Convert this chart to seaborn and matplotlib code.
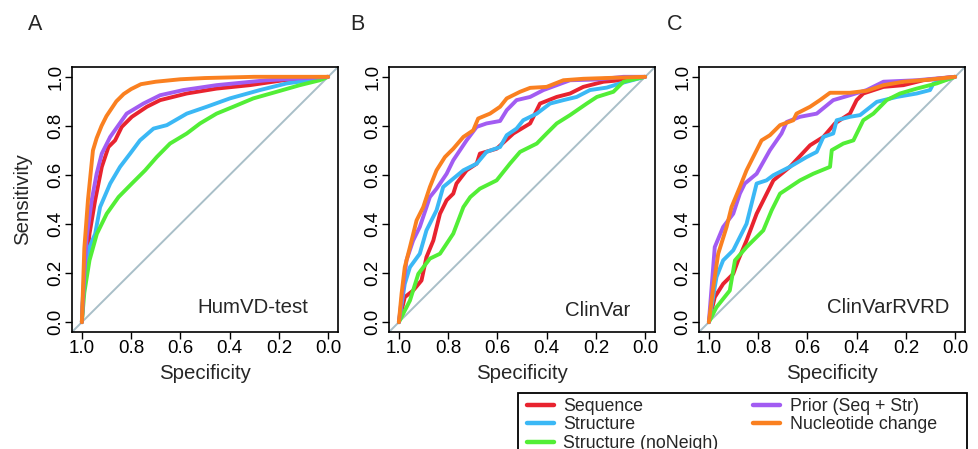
import numpy as np
import pandas as pd
import matplotlib
matplotlib.use("Agg")
import matplotlib.pyplot as plt
from matplotlib.lines import Line2D
from matplotlib.patches import Rectangle
import seaborn as sns

# ---------------- data: (specificity, sensitivity) points ----------------
series_names = ["Sequence", "Structure", "Structure (noNeigh)",
                "Prior (Seq + Str)", "Nucleotide change"]
series_colors = ["#E8232F", "#3BB8F5", "#52EE36", "#A25CF2", "#FA8020"]
panel_letters = ["A", "B", "C"]
panel_titles = ["HumVD-test", "ClinVar", "ClinVarRVRD"]
tick_vals = [0.0, 0.2, 0.4, 0.6, 0.8, 1.0]
tick_labels = ["0.0", "0.2", "0.4", "0.6", "0.8", "1.0"]

# Panel A: HumVD-test
A_seq = [(1.0, 0.0), (0.995, 0.1), (0.982, 0.224), (0.969, 0.36), (0.946, 0.497), (0.919, 0.633),
         (0.892, 0.714), (0.865, 0.741), (0.838, 0.796), (0.797, 0.837), (0.736, 0.878),
         (0.682, 0.905), (0.574, 0.932), (0.453, 0.952), (0.318, 0.966), (0.182, 0.986), (0.0, 1.0)]
A_str = [(1.0, 0.0), (0.996, 0.1), (0.986, 0.184), (0.969, 0.306), (0.946, 0.36), (0.926, 0.469),
         (0.885, 0.565), (0.845, 0.633), (0.804, 0.687), (0.764, 0.741), (0.709, 0.789),
         (0.655, 0.803), (0.574, 0.85), (0.493, 0.878), (0.399, 0.912), (0.277, 0.946),
         (0.169, 0.973), (0.074, 0.986), (0.0, 1.0)]
A_strnn = [(1.0, 0.0), (0.99, 0.12), (0.969, 0.252), (0.939, 0.36), (0.899, 0.442), (0.851, 0.51),
           (0.797, 0.565), (0.743, 0.619), (0.696, 0.673), (0.642, 0.728), (0.574, 0.769),
           (0.52, 0.81), (0.453, 0.85), (0.385, 0.878), (0.304, 0.912), (0.209, 0.939),
           (0.115, 0.966), (0.034, 0.986), (0.0, 1.0)]
A_prior = [(1.0, 0.0), (0.99, 0.2), (0.98, 0.35), (0.96, 0.497), (0.94, 0.605), (0.919, 0.687),
           (0.885, 0.755), (0.818, 0.85), (0.75, 0.891), (0.682, 0.925), (0.588, 0.946),
           (0.453, 0.966), (0.25, 0.986), (0.0, 1.0)]
A_nuc = [(1.0, 0.0), (0.995, 0.15), (0.99, 0.30), (0.975, 0.50), (0.965, 0.60), (0.955, 0.70),
         (0.94, 0.75), (0.92, 0.80), (0.90, 0.84), (0.88, 0.87), (0.86, 0.90), (0.83, 0.93),
         (0.80, 0.95), (0.76, 0.97), (0.70, 0.98), (0.60, 0.99), (0.50, 0.995), (0.30, 1.0), (0.0, 1.0)]

# Panel B: ClinVar
B_seq = [(1.0, 0.0), (0.976, 0.102), (0.942, 0.129), (0.908, 0.17), (0.888, 0.265), (0.86, 0.333),
         (0.833, 0.442), (0.806, 0.497), (0.779, 0.524), (0.766, 0.565), (0.725, 0.619),
         (0.684, 0.646), (0.671, 0.687), (0.603, 0.707), (0.535, 0.769), (0.467, 0.81),
         (0.427, 0.891), (0.359, 0.918), (0.305, 0.932), (0.251, 0.959), (0.169, 0.98),
         (0.102, 0.986), (0.0, 1.0)]
B_str = [(1.0, 0.0), (0.976, 0.156), (0.955, 0.224), (0.915, 0.279), (0.888, 0.374), (0.847, 0.456),
         (0.82, 0.551), (0.779, 0.585), (0.738, 0.619), (0.684, 0.646), (0.644, 0.694),
         (0.589, 0.714), (0.562, 0.762), (0.522, 0.789), (0.495, 0.823), (0.44, 0.85),
         (0.386, 0.891), (0.332, 0.905), (0.278, 0.918), (0.224, 0.946), (0.156, 0.956),
         (0.102, 0.973), (0.0, 1.0)]
B_strnn = [(1.0, 0.0), (0.955, 0.088), (0.921, 0.197), (0.874, 0.259), (0.833, 0.279), (0.779, 0.361),
           (0.738, 0.469), (0.71, 0.51), (0.671, 0.544), (0.603, 0.578), (0.549, 0.646),
           (0.508, 0.694), (0.44, 0.728), (0.4, 0.769), (0.359, 0.81), (0.305, 0.844),
           (0.237, 0.891), (0.196, 0.918), (0.129, 0.939), (0.088, 0.98), (0.0, 1.0)]
B_prior = [(1.0, 0.0), (0.969, 0.252), (0.942, 0.333), (0.915, 0.388), (0.874, 0.51), (0.847, 0.544),
           (0.806, 0.605), (0.779, 0.66), (0.725, 0.741), (0.684, 0.796), (0.644, 0.81),
           (0.589, 0.82), (0.562, 0.864), (0.522, 0.905), (0.467, 0.918), (0.413, 0.946),
           (0.359, 0.966), (0.305, 0.986), (0.196, 0.989), (0.088, 1.0), (0.0, 1.0)]
B_nuc = [(1.0, 0.0), (0.989, 0.116), (0.976, 0.224), (0.955, 0.306), (0.928, 0.415), (0.901, 0.469),
         (0.874, 0.551), (0.847, 0.619), (0.813, 0.673), (0.779, 0.707), (0.738, 0.755),
         (0.698, 0.782), (0.678, 0.83), (0.63, 0.85), (0.589, 0.878), (0.562, 0.912),
         (0.508, 0.939), (0.467, 0.955), (0.4, 0.959), (0.332, 0.986), (0.251, 0.992),
         (0.129, 0.996), (0.0, 1.0)]

# Panel C: ClinVarRVRD
C_seq = [(1.0, 0.0), (0.976, 0.102), (0.942, 0.156), (0.901, 0.197), (0.881, 0.252), (0.847, 0.333),
         (0.806, 0.442), (0.772, 0.51), (0.738, 0.578), (0.671, 0.633), (0.589, 0.721),
         (0.535, 0.755), (0.488, 0.81), (0.427, 0.85), (0.4, 0.905), (0.373, 0.932),
         (0.291, 0.959), (0.21, 0.966), (0.129, 0.986), (0.0, 1.0)]
C_str = [(1.0, 0.0), (0.969, 0.184), (0.942, 0.252), (0.901, 0.293), (0.847, 0.401), (0.806, 0.565),
         (0.766, 0.578), (0.738, 0.599), (0.671, 0.633), (0.603, 0.673), (0.562, 0.694),
         (0.535, 0.755), (0.495, 0.769), (0.481, 0.823), (0.427, 0.837), (0.386, 0.844),
         (0.318, 0.898), (0.237, 0.918), (0.156, 0.932), (0.102, 0.946), (0.088, 0.973), (0.0, 1.0)]
C_strnn = [(1.0, 0.0), (0.969, 0.061), (0.915, 0.129), (0.894, 0.252), (0.847, 0.306), (0.779, 0.374),
           (0.745, 0.456), (0.711, 0.524), (0.63, 0.578), (0.576, 0.605), (0.508, 0.633),
           (0.501, 0.701), (0.454, 0.728), (0.413, 0.741), (0.373, 0.823), (0.332, 0.85),
           (0.278, 0.905), (0.224, 0.932), (0.156, 0.952), (0.075, 0.973), (0.0, 1.0)]
C_prior = [(1.0, 0.0), (0.976, 0.306), (0.942, 0.388), (0.901, 0.442), (0.874, 0.524), (0.854, 0.565),
           (0.806, 0.605), (0.752, 0.701), (0.705, 0.769), (0.684, 0.816), (0.63, 0.837),
           (0.562, 0.85), (0.495, 0.905), (0.427, 0.925), (0.359, 0.946), (0.291, 0.98),
           (0.156, 0.986), (0.0, 1.0)]
C_nuc = [(1.0, 0.0), (0.982, 0.143), (0.962, 0.279), (0.928, 0.388), (0.908, 0.469), (0.874, 0.551),
         (0.847, 0.619), (0.82, 0.673), (0.786, 0.741), (0.752, 0.762), (0.711, 0.803),
         (0.657, 0.823), (0.644, 0.85), (0.589, 0.878), (0.549, 0.905), (0.508, 0.935),
         (0.427, 0.935), (0.359, 0.943), (0.291, 0.966), (0.21, 0.98), (0.102, 0.989), (0.0, 1.0)]

panels = [
    [A_seq, A_str, A_strnn, A_prior, A_nuc],
    [B_seq, B_str, B_strnn, B_prior, B_nuc],
    [C_seq, C_str, C_strnn, C_prior, C_nuc],
]

# ---------------- plotting ----------------
sns.set_theme(style="white")
plt.rcParams["font.family"] = ["Liberation Sans", "DejaVu Sans"]

W, H = 979, 449
fig = plt.figure(figsize=(W / 100, H / 100), dpi=100)

box_lefts = [72, 389, 699]
box_w, box_top, box_bot = 266, 67, 332
text_pos = [(0.887, 0.094), (0.906, 0.083), (0.943, 0.094)]
letter_x = [28, 350, 667]

palette = dict(zip(series_names, series_colors))

for i, curves in enumerate(panels):
    ax = fig.add_axes([box_lefts[i] / W, (H - box_bot) / H, box_w / W, (box_bot - box_top) / H])
    rows = []
    for name, pts in zip(series_names, curves):
        for k, (sp, se) in enumerate(pts):
            rows.append({"series": name, "order": k, "spec": sp, "sens": se})
    df = pd.DataFrame(rows)
    ax.axline((1.0, 0.0), (0.0, 1.0), color="#A9BFC8", lw=1.4, zorder=1)
    sns.lineplot(data=df, x="spec", y="sens", hue="series", hue_order=series_names,
                 palette=palette, sort=False, estimator=None, units="series",
                 lw=2.8, legend=False, ax=ax, zorder=3)
    ax.set_xlim(1.04, -0.04)
    ax.set_ylim(-0.04, 1.04)
    ax.set_xticks(tick_vals)
    ax.set_xticklabels(tick_labels, fontsize=13.5)
    ax.set_yticks(tick_vals)
    ax.set_yticklabels(tick_labels, fontsize=13.5, rotation=90, va="center")
    ax.tick_params(axis="both", direction="out", length=5, width=1, colors="black",
                   bottom=True, left=True)
    ax.tick_params(axis="x", pad=0.5)
    ax.tick_params(axis="y", pad=0.5)
    for s in ax.spines.values():
        s.set_color("black")
        s.set_linewidth(1.2)
    ax.set_xlabel("Specificity", fontsize=14.7, labelpad=5.5)
    if i == 0:
        ax.set_ylabel("Sensitivity", fontsize=14.7, labelpad=11)
    else:
        ax.set_ylabel("")
    ax.grid(False)
    ax.text(text_pos[i][0], text_pos[i][1], panel_titles[i], transform=ax.transAxes,
            ha="right", va="center", fontsize=14.7)
    fig.text(letter_x[i] / W, 1 - 25 / H, panel_letters[i], fontsize=15.5,
             ha="left", va="center")

# legend
fig.patches.append(Rectangle((518 / W, 1 - 470 / H), (967 - 518) / W, (470 - 393) / H,
                             transform=fig.transFigure, fill=False, edgecolor="black",
                             lw=1.3, figure=fig))
handles = [Line2D([0], [0], color=c, lw=3.2) for c in series_colors]
fig.legend(handles, series_names, loc="upper left",
           bbox_to_anchor=(527 / W, 1 - 398 / H), ncol=2, frameon=False,
           fontsize=12.8, handlelength=1.5, handletextpad=0.55, labelspacing=0.08,
           columnspacing=1.95, borderaxespad=0, borderpad=0)

fig.savefig("out.png", dpi=100)
